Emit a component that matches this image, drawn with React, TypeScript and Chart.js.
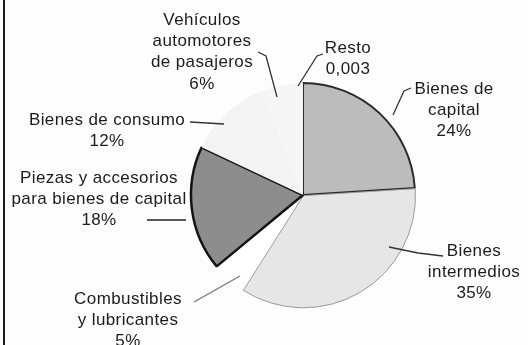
import React, { useEffect, useRef } from "react";
import { Chart, registerables } from "chart.js";

Chart.register(...registerables);

// ---- data ----
const categories = [
  "Resto",
  "Bienes de capital",
  "Bienes intermedios",
  "Combustibles y lubricantes",
  "Piezas y accesorios para bienes de capital",
  "Bienes de consumo",
  "Vehículos automotores de pasajeros",
];
const shares = [0.003, 24, 35, 5, 18, 12, 6];
const valueLabels = ["0,003", "24%", "35%", "5%", "18%", "12%", "6%"];
const labelTexts = [
  ["Resto"],
  ["Bienes de", "capital"],
  ["Bienes", "intermedios"],
  ["Combustibles", "y lubricantes"],
  ["Piezas y accesorios", "para bienes de capital"],
  ["Bienes de consumo"],
  ["Vehículos", "automotores", "de pasajeros"],
];

// ---- styles / layout ----
const sliceColors = ["#a8a8a8", "#bcbcbc", "#e6e6e6", "#ffffff", "#8d8d8d", "#f3f3f3", "#f5f5f5"];
const sliceBorders = ["rgba(0,0,0,0)", "#2a2a2a", "#9a9a9a", "rgba(0,0,0,0)", "#141414", "rgba(0,0,0,0)", "rgba(0,0,0,0)"];
const sliceBorderWidths = [0, 2, 1, 0, 2.5, 0, 0];
const sliceOffsets = [0, 0, 3, 0, 0, 0, 0];
// label block: center x, first line middle y
const labelPos: [number, number][] = [
  [348, 48],
  [454, 89],
  [474, 251],
  [128, 299],
  [99, 178],
  [107, 120],
  [202, 20],
];
const leaders: [number, number][][] = [
  [[298, 86], [317, 56], [323, 54]],
  [[393, 115], [404, 91], [411, 88]],
  [[389, 247], [418, 253], [443, 256]],
  [[194, 302], [240, 276]],
  [[147, 220], [186, 220]],
  [[190, 122], [224, 124]],
  [[258, 52], [266, 56], [277, 97]],
];
const leaderColors = ["#333", "#333", "#333", "#777", "#222", "#333", "#333"];
const LINE_H = 21.3;

const labelPlugin = {
  id: "pieLabels",
  afterDraw(chart: any) {
    const ctx = chart.ctx as CanvasRenderingContext2D;
    ctx.save();
    leaders.forEach((pts, i) => {
      ctx.beginPath();
      ctx.strokeStyle = leaderColors[i];
      ctx.lineWidth = 1.3;
      pts.forEach(([x, y], j) => (j === 0 ? ctx.moveTo(x, y) : ctx.lineTo(x, y)));
      ctx.stroke();
    });
    ctx.fillStyle = "#1c1c1c";
    ctx.font = "17px 'Liberation Sans', Arial, sans-serif";
    (ctx as any).letterSpacing = "0.4px";
    ctx.textAlign = "center";
    ctx.textBaseline = "middle";
    labelTexts.forEach((lines, i) => {
      const [cx, y0] = labelPos[i];
      const all = [...lines, valueLabels[i]];
      all.forEach((t, k) => ctx.fillText(t, cx, y0 + k * LINE_H));
    });
    ctx.restore();
  },
};

export default function App() {
  const ref = useRef<HTMLCanvasElement>(null);
  useEffect(() => {
    if (!ref.current) return;
    const chart = new Chart(ref.current, {
      type: "pie",
      data: {
        labels: categories,
        datasets: [
          {
            data: shares,
            backgroundColor: sliceColors,
            borderColor: sliceBorders,
            borderWidth: sliceBorderWidths,
            offset: sliceOffsets,
            radius: 112,
          } as any,
        ],
      },
      options: {
        animation: false,
        responsive: false,
        maintainAspectRatio: false,
        layout: { padding: { left: 100, right: 22, top: 60, bottom: 15 } },
        plugins: {
          legend: { display: false },
          tooltip: { enabled: false },
        },
      },
      plugins: [labelPlugin],
    });
    return () => chart.destroy();
  }, []);
  return (
    <div
      style={{
        position: "fixed",
        left: 0,
        top: 0,
        width: 528,
        height: 345,
        background: "#fdfdfd",
        overflow: "hidden",
      }}
    >
      <div style={{ position: "absolute", left: 3, top: 0, width: 2, height: 345, background: "#1a1a1a" }} />
      <canvas ref={ref} width={528} height={345} style={{ position: "absolute", left: 0, top: 0 }} />
    </div>
  );
}
